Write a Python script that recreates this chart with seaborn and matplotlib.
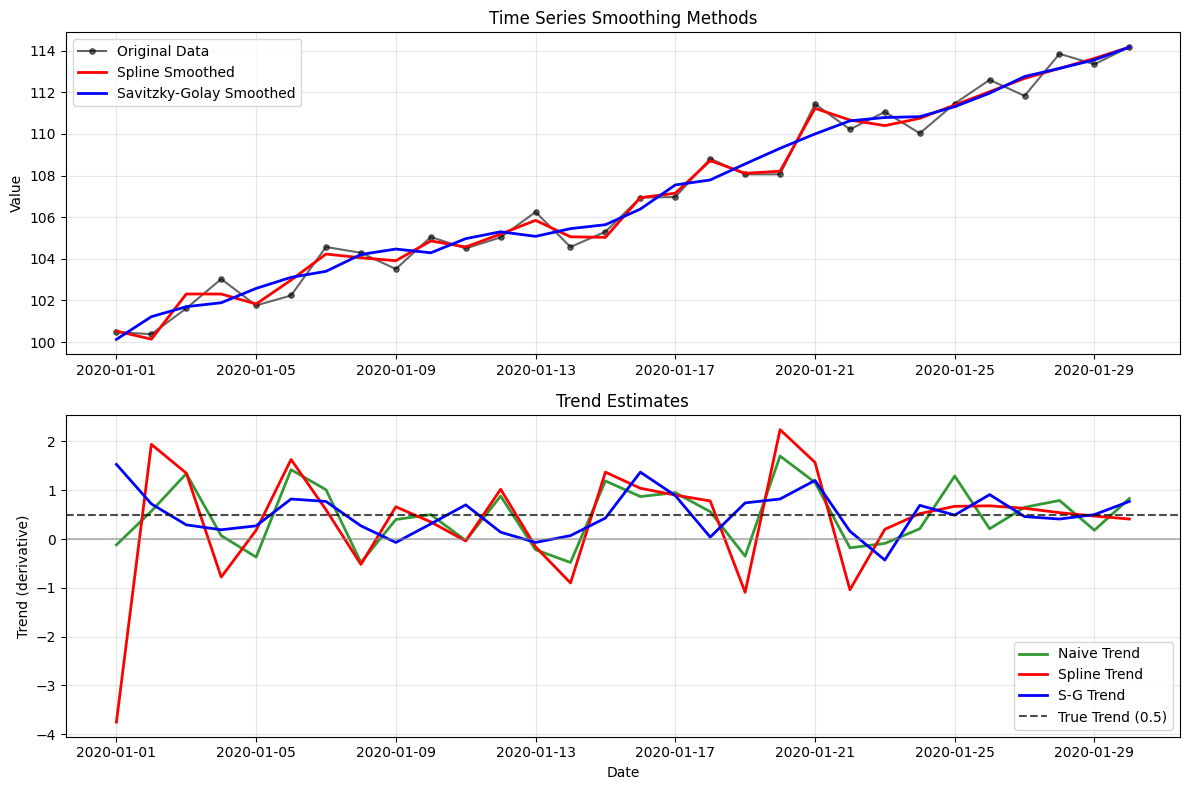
import numpy as np
import pandas as pd
import matplotlib
matplotlib.use("Agg")
import matplotlib.pyplot as plt
import seaborn as sns

dates = pd.date_range("2020-01-01", periods=30, freq="D")

original = [100.48, 100.38, 101.62, 103.03, 101.76, 102.24, 104.57, 104.29, 103.51, 105.05,
            104.50, 105.03, 106.25, 104.57, 105.30, 106.94, 106.97, 108.81, 108.06, 108.06,
            111.44, 110.22, 111.06, 110.03, 111.46, 112.60, 111.83, 113.85, 113.35, 114.18]
spline_smooth = [100.53, 100.14, 102.31, 102.31, 101.83, 102.98, 104.23, 104.05, 103.91, 104.86,
                 104.57, 105.19, 105.85, 105.06, 105.03, 106.94, 107.15, 108.72, 108.11, 108.21,
                 111.23, 110.67, 110.40, 110.75, 111.39, 112.03, 112.67, 113.15, 113.63, 114.17]
sg_smooth = [100.13, 101.22, 101.70, 101.89, 102.58, 103.11, 103.40, 104.21, 104.47, 104.29,
             104.97, 105.30, 105.08, 105.45, 105.64, 106.39, 107.55, 107.79, 108.56, 109.31,
             110.00, 110.63, 110.79, 110.83, 111.31, 111.96, 112.76, 113.15, 113.56, 114.17]

naive_trend = [-0.12, 0.57, 1.34, 0.07, -0.37, 1.42, 1.01, -0.48, 0.40, 0.50,
               -0.03, 0.88, -0.22, -0.48, 1.19, 0.87, 0.95, 0.56, -0.35, 1.70,
               1.16, -0.18, -0.09, 0.21, 1.29, 0.21, 0.65, 0.79, 0.18, 0.83]
spline_trend = [-3.75, 1.94, 1.35, -0.78, 0.18, 1.63, 0.60, -0.52, 0.66, 0.35,
                -0.04, 1.02, -0.16, -0.90, 1.37, 1.04, 0.90, 0.78, -1.09, 2.24,
                1.57, -1.04, 0.20, 0.52, 0.67, 0.68, 0.63, 0.54, 0.47, 0.41]
sg_trend = [1.53, 0.72, 0.29, 0.19, 0.27, 0.82, 0.77, 0.27, -0.07, 0.31,
            0.70, 0.14, -0.07, 0.07, 0.43, 1.37, 0.89, 0.04, 0.74, 0.82,
            1.20, 0.16, -0.43, 0.69, 0.49, 0.91, 0.46, 0.41, 0.50, 0.77]
true_trend = 0.5

fig, (ax1, ax2) = plt.subplots(2, 1, figsize=(12, 8), dpi=100)

sns.lineplot(x=dates, y=original, ax=ax1, color="black", alpha=0.6, marker="o",
             markersize=4, markeredgecolor="black", linewidth=1.5, label="Original Data")
sns.lineplot(x=dates, y=spline_smooth, ax=ax1, color="red", linewidth=2, label="Spline Smoothed")
sns.lineplot(x=dates, y=sg_smooth, ax=ax1, color="blue", linewidth=2, label="Savitzky-Golay Smoothed")
ax1.set_title("Time Series Smoothing Methods")
ax1.set_ylabel("Value")
ax1.set_xlabel("")
ax1.legend(loc="upper left")
ax1.grid(True, alpha=0.3)

sns.lineplot(x=dates, y=naive_trend, ax=ax2, color="green", alpha=0.8, linewidth=2, label="Naive Trend")
sns.lineplot(x=dates, y=spline_trend, ax=ax2, color="red", linewidth=2, label="Spline Trend")
sns.lineplot(x=dates, y=sg_trend, ax=ax2, color="blue", linewidth=2, label="S-G Trend")
ax2.axhline(true_trend, color="black", linestyle="--", alpha=0.7, linewidth=1.5, label="True Trend (0.5)")
ax2.axhline(0, color="gray", alpha=0.5, linewidth=1.5)
ax2.set_title("Trend Estimates")
ax2.set_ylabel("Trend (derivative)")
ax2.set_xlabel("Date")
ax2.legend(loc="lower right")
ax2.grid(True, alpha=0.3)

fig.tight_layout()
fig.savefig("out.png", dpi=100, bbox_inches="tight")
